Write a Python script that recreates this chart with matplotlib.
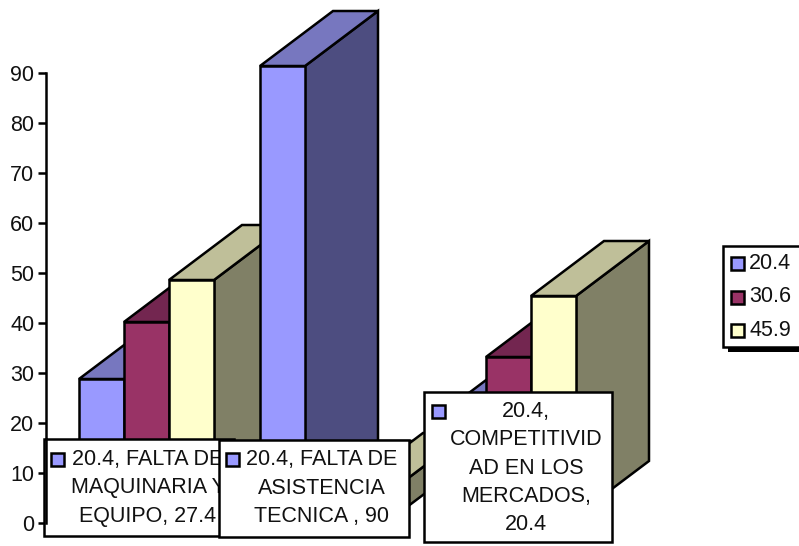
import matplotlib
matplotlib.use('Agg')
import numpy as np
import matplotlib.pyplot as plt
from matplotlib.lines import Line2D
from matplotlib.patches import Polygon, Rectangle
from matplotlib.transforms import Affine2D

plt.rcParams['font.family'] = ['Liberation Sans']

# ═══ Data ═══════════════════════════════════════════════

series = ['20.4', '30.6', '45.9']
falta_maq = [27.4, 38.8, 47.2]
falta_asis = [90, 4, 5.6]
competit = [20.4, 31.8, 44]

labels = ['20.4, FALTA DE\nMAQUINARIA Y\nEQUIPO, 27.4',
          '20.4, FALTA DE\nASISTENCIA\nTECNICA , 90',
          '20.4,\nCOMPETITIVID\nAD EN LOS\nMERCADOS,\n20.4']

y_ticks = np.arange(0, 100, 10)

# ─── Colours: front, top, side
c_front = ['#9999FF', '#993366', '#FFFFCC']
c_top = ['#7777BF', '#732650', '#BFBF99']
c_side = ['#4D4D80', '#4D1A33', '#808066']

# ═══ Figure ═════════════════════════════════════════════

W, H = 799, 546
fig = plt.figure(figsize=(W/100, H/100), dpi=100)

# Pixel transform with origin top left
px = Affine2D().scale(1, -1).translate(0, H)

ax = fig.add_axes([46/W, 1-523/H, 634/W, 450/H])
ax.patch.set_alpha(0)

# one category = 181 px, first group centred at 146.5 px
ax.set_xlim(-100.5/181, (680-146.5)/181)
ax.set_ylim(0, 90)

lw = 1.8
fs = 15.5
ink = '#111111'
bar_w = 45/181
dep_x = 73/181   # depth in category units
dep_y = 11       # depth in value units
lift = 1.4       # bars stand behind the axis line

data = [falta_maq, falta_asis, competit]

for i, vals in enumerate(data):
  for j, v in enumerate(vals):
    x0 = i + (j-1.5)*bar_w
    x1 = x0 + bar_w
    y0 = lift
    y1 = v + lift
    top = [(x0, y1), (x1, y1), (x1+dep_x, y1+dep_y), (x0+dep_x, y1+dep_y)]
    side = [(x1, y0), (x1+dep_x, y0+dep_y), (x1+dep_x, y1+dep_y), (x1, y1)]
    front = [(x0, y0), (x1, y0), (x1, y1), (x0, y1)]
    for pts, col in ((side, c_side[j]), (top, c_top[j]), (front, c_front[j])):
      ax.add_patch(Polygon(pts, closed=True, facecolor=col, edgecolor='black',
                           linewidth=lw, joinstyle='miter', clip_on=False, zorder=3))

for s in ('top', 'right', 'bottom'):
  ax.spines[s].set_visible(False)
ax.spines['left'].set_linewidth(lw)
ax.set_xticks([])
ax.set_yticks(y_ticks)
ax.tick_params(axis='y', length=5.8, width=lw, pad=2.5, labelsize=fs, labelcolor=ink)

# ─── Data label boxes

boxes = [(44, 439, 190, 97), (219, 440, 190, 97), (424, 392, 188, 150)]
keys = [(51, 453), (226, 453), (432, 405)]
centers = [(148, 488), (322, 488), (526, 468)]

for n, (b, k, c, txt) in enumerate(zip(boxes, keys, centers, labels)):
  z = 5 + n
  fig.add_artist(Rectangle((b[0], b[1]), b[2], b[3], transform=px, facecolor='white',
                           edgecolor='black', linewidth=lw, zorder=z))
  fig.add_artist(Rectangle((k[0], k[1]), 13, 13, transform=px, facecolor=c_front[0],
                           edgecolor='black', linewidth=lw, zorder=z+.1))
  fig.text(c[0], c[1], txt, transform=px, ha='center', va='center', fontsize=fs,
           color=ink, linespacing=1.45, zorder=z+.1)

# Axis line stays visible over the first box
fig.add_artist(Line2D([46, 46], [439, 523], transform=px, color='black', linewidth=lw, zorder=5.2))

# ─── Legend

fig.add_artist(Rectangle((728, 300), 80, 52, transform=px, facecolor='black',
                         edgecolor='none', zorder=4))
fig.add_artist(Rectangle((723, 246), 90, 101, transform=px, facecolor='white',
                         edgecolor='black', linewidth=lw, zorder=5))
for j, name in enumerate(series):
  y = 257 + j*33.5
  fig.add_artist(Rectangle((731, y), 13, 13, transform=px, facecolor=c_front[j],
                           edgecolor='black', linewidth=lw, zorder=6))
  fig.text(749, y+6.5, name, transform=px, ha='left', va='center', fontsize=fs,
           color=ink, zorder=6)

fig.savefig('out.png', dpi=100)
